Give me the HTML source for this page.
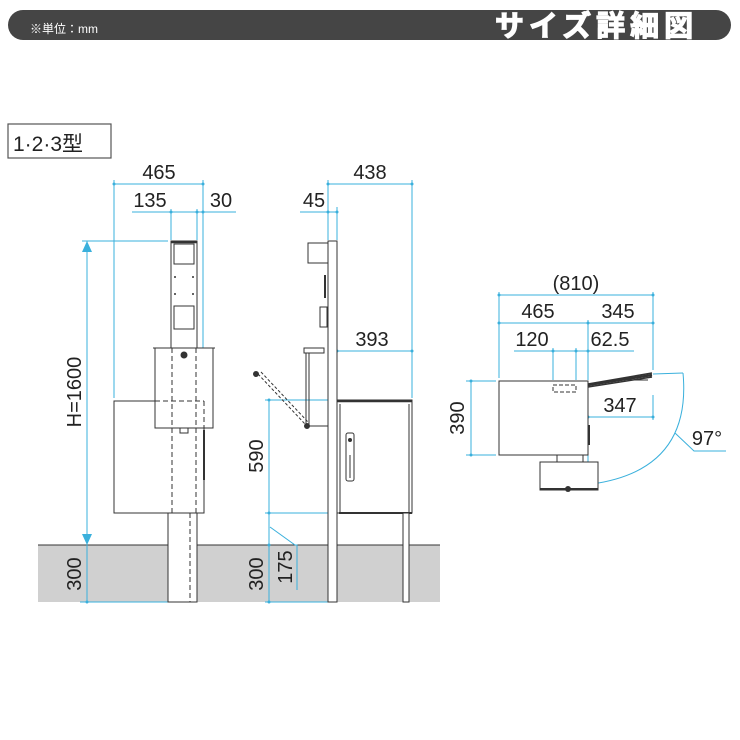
<!DOCTYPE html>
<html><head><meta charset="utf-8"><style>
html,body{margin:0;padding:0;background:#fff;width:740px;height:740px;overflow:hidden}
svg{display:block}
text{font-family:"Liberation Sans","Noto Sans CJK JP",sans-serif}
</style></head><body>
<svg width="740" height="740" viewBox="0 0 740 740" xmlns="http://www.w3.org/2000/svg">
<rect x="8" y="10" width="723" height="30" rx="15" fill="#454545"/>
<text x="30" y="33" font-size="12" fill="#fff">※単位：mm</text>
<text x="495" y="36" font-size="29" font-weight="bold" fill="#fff" stroke="#fff" stroke-width="1.2" letter-spacing="5" style="font-family:'Noto Sans CJK JP',sans-serif">サイズ詳細図</text>
<rect x="8" y="124" width="103" height="34" fill="#fff" stroke="#555" stroke-width="1.2"/>
<text x="13" y="151" font-size="21" fill="#222">1·2·3<tspan style="font-family:'Noto Sans CJK JP',sans-serif">型</tspan></text>

<rect x="38" y="545" width="402" height="57" fill="#d0d0d0"/>
<line x1="38" y1="545" x2="440" y2="545" stroke="#333" stroke-width="1"/>

<g fill="none" stroke="#3ab0dc" stroke-width="1">
<line x1="114" y1="184" x2="203" y2="184"/>
<line x1="114" y1="180" x2="114" y2="398"/>
<line x1="203" y1="180" x2="203" y2="398"/>
<line x1="132" y1="212" x2="236" y2="212"/>
<line x1="171" y1="209" x2="171" y2="240"/>
<line x1="197" y1="209" x2="197" y2="240"/>
<line x1="82" y1="241" x2="168" y2="241"/>
<line x1="87" y1="241" x2="87" y2="602"/>
<line x1="80" y1="602" x2="168" y2="602"/>
<line x1="328" y1="184" x2="412" y2="184"/>
<line x1="328" y1="180" x2="328" y2="240"/>
<line x1="412" y1="180" x2="412" y2="398"/>
<line x1="300" y1="212" x2="337" y2="212"/>
<line x1="337" y1="207" x2="337" y2="240"/>
<line x1="337" y1="351" x2="412" y2="351"/>
<line x1="265" y1="400" x2="330" y2="400"/>
<line x1="265" y1="513" x2="330" y2="513"/>
<line x1="269" y1="400" x2="269" y2="602"/>
<line x1="265" y1="602" x2="330" y2="602"/>
<polyline points="270,527 295,545 297,545 297,590"/>
<line x1="499" y1="295" x2="653" y2="295"/>
<line x1="499" y1="292" x2="499" y2="378"/>
<line x1="653" y1="292" x2="653" y2="370"/>
<line x1="499" y1="323" x2="653" y2="323"/>
<line x1="588" y1="320" x2="588" y2="380"/>
<line x1="514" y1="351" x2="634" y2="351"/>
<line x1="553" y1="348" x2="553" y2="380"/>
<line x1="576" y1="348" x2="576" y2="380"/>
<line x1="588" y1="417" x2="653" y2="417"/>
<line x1="653" y1="395" x2="653" y2="420"/>
<line x1="466" y1="381" x2="496" y2="381"/>
<line x1="466" y1="455" x2="496" y2="455"/>
<line x1="471" y1="381" x2="471" y2="455"/>
<line x1="588" y1="455" x2="588" y2="485"/>
<line x1="653" y1="374" x2="683" y2="373"/>
<path d="M683 373 Q692 470 592 484"/>
<polyline points="675,433 694,451 726,451"/>
</g>
<g fill="#3ab0dc">
<polygon points="87,241 82,252 92,252"/><polygon points="87,545 82,534 92,534"/>
<circle cx="114" cy="184" r="1.5"/><circle cx="203" cy="184" r="1.5"/><circle cx="171" cy="212" r="1.5"/><circle cx="197" cy="212" r="1.5"/><circle cx="203" cy="212" r="1.5"/>
<circle cx="87" cy="602" r="1.5"/><circle cx="328" cy="184" r="1.5"/><circle cx="412" cy="184" r="1.5"/><circle cx="328" cy="212" r="1.5"/><circle cx="337" cy="212" r="1.5"/>
<circle cx="337" cy="351" r="1.5"/><circle cx="412" cy="351" r="1.5"/><circle cx="269" cy="400" r="1.5"/><circle cx="269" cy="513" r="1.5"/><circle cx="269" cy="545" r="1.5"/><circle cx="269" cy="602" r="1.5"/>
<circle cx="499" cy="295" r="1.5"/><circle cx="653" cy="295" r="1.5"/><circle cx="499" cy="323" r="1.5"/><circle cx="588" cy="323" r="1.5"/><circle cx="653" cy="323" r="1.5"/>
<circle cx="553" cy="351" r="1.5"/><circle cx="576" cy="351" r="1.5"/><circle cx="588" cy="351" r="1.5"/><circle cx="588" cy="417" r="1.5"/><circle cx="653" cy="417" r="1.5"/>
<circle cx="471" cy="381" r="1.5"/><circle cx="471" cy="455" r="1.5"/>
</g>

<g font-size="20" fill="#222">
<text x="159" y="179" text-anchor="middle">465</text>
<text x="150" y="207" text-anchor="middle">135</text>
<text x="221" y="207" text-anchor="middle">30</text>
<text x="370" y="179" text-anchor="middle">438</text>
<text x="314" y="207" text-anchor="middle">45</text>
<text x="372" y="346" text-anchor="middle">393</text>
<text x="576" y="290" text-anchor="middle">(810)</text>
<text x="538" y="318" text-anchor="middle">465</text>
<text x="618" y="318" text-anchor="middle">345</text>
<text x="532" y="346" text-anchor="middle">120</text>
<text x="610" y="346" text-anchor="middle">62.5</text>
<text x="620" y="412" text-anchor="middle">347</text>
<text x="707" y="445" text-anchor="middle">97°</text>
<text transform="translate(81,392) rotate(-90)" text-anchor="middle">H=1600</text>
<text transform="translate(81,574) rotate(-90)" text-anchor="middle">300</text>
<text transform="translate(263,456) rotate(-90)" text-anchor="middle">590</text>
<text transform="translate(263,574) rotate(-90)" text-anchor="middle">300</text>
<text transform="translate(292,567) rotate(-90)" text-anchor="middle">175</text>
<text transform="translate(464,418) rotate(-90)" text-anchor="middle">390</text>
</g>

<g fill="none" stroke="#333" stroke-width="1">
<rect x="171" y="241" width="26" height="107" fill="#fff"/>
<line x1="171" y1="242" x2="197" y2="242" stroke-width="2.5"/>
<rect x="174" y="244" width="20" height="20"/>
<rect x="174" y="306" width="20" height="23"/>
<rect x="114" y="401" width="90" height="112" fill="#fff"/>
<rect x="155" y="348" width="58" height="80" fill="#fff"/>
<line x1="153" y1="348" x2="215" y2="348"/>
<rect x="168" y="513" width="29" height="89" fill="#fff"/>
<line x1="204" y1="430" x2="204" y2="480" stroke-width="2"/>
<rect x="180" y="428" width="8" height="5"/>
</g>
<g fill="#333"><circle cx="175" cy="277" r="1"/><circle cx="193" cy="277" r="1"/><circle cx="175" cy="294" r="1"/><circle cx="193" cy="294" r="1"/><circle cx="184" cy="355" r="3.5"/></g>
<g fill="none" stroke="#333" stroke-width="1" stroke-dasharray="5,3">
<line x1="172" y1="348" x2="172" y2="513"/>
<line x1="196" y1="348" x2="196" y2="513"/>
<line x1="155" y1="401" x2="204" y2="401"/>
<line x1="204" y1="401" x2="204" y2="428"/>
<line x1="190" y1="513" x2="190" y2="602"/>
</g>

<g fill="none" stroke="#333" stroke-width="1">
<rect x="328" y="241" width="9" height="361" fill="#fff"/>
<rect x="308" y="243" width="20" height="20"/>
<line x1="325" y1="275" x2="325" y2="298" stroke-width="2"/>
<rect x="320" y="307" width="7" height="20"/>
<rect x="304" y="348" width="20" height="5"/>
<line x1="306" y1="353" x2="306" y2="426"/>
<line x1="309" y1="353" x2="309" y2="426"/>
<line x1="306" y1="426" x2="328" y2="426"/>
<circle cx="307" cy="426" r="2.5" fill="#333"/>
<rect x="337" y="400" width="75" height="113" fill="#fff"/>
<line x1="337" y1="401" x2="412" y2="401" stroke-width="2.5"/>
<line x1="339" y1="513" x2="412" y2="513" stroke-width="2"/>
<line x1="340" y1="404" x2="340" y2="512"/>
<line x1="409" y1="404" x2="409" y2="512"/>
<rect x="346" y="433" width="8" height="48" rx="2"/>
<line x1="350" y1="455" x2="350" y2="478"/>
<rect x="403" y="513" width="6" height="89" fill="#fff"/>
<line x1="258" y1="374" x2="305" y2="424" stroke-dasharray="3,2"/>
<line x1="261" y1="372" x2="308" y2="422" stroke-dasharray="3,2"/>
</g>
<circle cx="256" cy="374" r="3" fill="#333"/>
<circle cx="350" cy="440" r="2" fill="#333"/>

<g fill="none" stroke="#333" stroke-width="1">
<rect x="499" y="381" width="89" height="74" fill="#fff"/>
<rect x="553" y="385" width="23" height="7" stroke-dasharray="4,2"/>
<rect x="557" y="455" width="26" height="8"/>
<rect x="540" y="462" width="58" height="28" fill="#fff"/>
<line x1="540" y1="489" x2="598" y2="489" stroke-width="2"/>
<line x1="588" y1="384" x2="652" y2="373" stroke-width="1.5"/>
<line x1="588" y1="387" x2="652" y2="377" stroke-width="1.5"/>
<line x1="588" y1="385" x2="652" y2="375" stroke-width="2.5"/>
<line x1="628" y1="380" x2="648" y2="380"/>
<line x1="589" y1="425" x2="589" y2="445" stroke-width="2"/>
</g>
<circle cx="568" cy="489" r="3" fill="#333"/>
</svg>
</body></html>
